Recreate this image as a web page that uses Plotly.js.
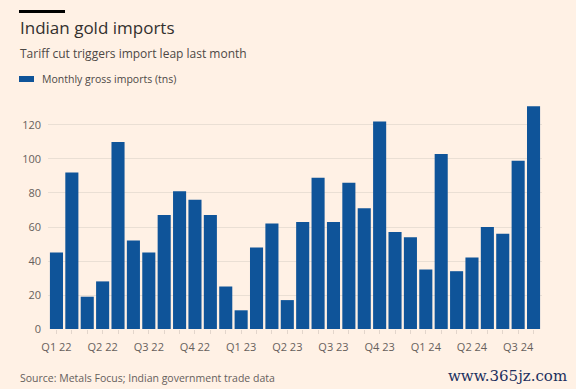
<!DOCTYPE html>
<html><head><meta charset="utf-8">
<script src="https://cdn.plot.ly/plotly-3.0.1.min.js"></script>
<style>html,body{margin:0;padding:0;background:#FFF1E5;}</style>
</head><body>
<div id="chart" style="width:576px;height:389px;"></div>
<script>
const months = ["Jan 22","Feb 22","Mar 22","Apr 22","May 22","Jun 22","Jul 22","Aug 22","Sep 22","Oct 22","Nov 22","Dec 22",
"Jan 23","Feb 23","Mar 23","Apr 23","May 23","Jun 23","Jul 23","Aug 23","Sep 23","Oct 23","Nov 23","Dec 23",
"Jan 24","Feb 24","Mar 24","Apr 24","May 24","Jun 24","Jul 24","Aug 24"];
const imports = [45,92,19,28,110,52,45,67,81,76,67,25,11,48,62,17,63,89,63,86,71,122,57,54,35,103,34,42,60,56,99,131];
const quarterLabels = ["Q1 22","Q2 22","Q3 22","Q4 22","Q1 23","Q2 23","Q3 23","Q4 23","Q1 24","Q2 24","Q3 24"];
const yTicks = [0,20,40,60,80,100,120];

const W=576,H=389, L=48, R=34, T=100, B=60;
const pw=W-L-R, ph=H-T-B;
const px = x => (x-L)/pw;
const py = y => (H-B-y)/ph;

const idx = months.map((m,i)=>i);
const tickText = idx.map(i => i%3===0 ? quarterLabels[i/3] : "");

const trace = {type:'bar', x: idx, y: imports, marker:{color:'#0F5499'}, name:'Monthly gross imports (tns)',
  hovertext: months, showlegend:false};

const font = "Open Sans, Lato, sans-serif";
const layout = {
  width:W, height:H, margin:{l:L,r:R,t:T,b:B},
  paper_bgcolor:'#FFF1E5', plot_bgcolor:'#FFF1E5',
  bargap:0.15,
  font:{family:font, color:'#66605c', size:11},
  xaxis:{range:[-0.55,31.55], tickvals: idx, ticktext: tickText, ticks:'outside', ticklen:4,
    tickcolor:'#e3d6cc', showgrid:false, zeroline:false, showline:false, tickfont:{size:11,color:'#66605c'},
    ticklabelstandoff:4, fixedrange:true},
  yaxis:{range:[0,134.7], tickvals:yTicks, showgrid:true, gridcolor:'#eadfd4', gridwidth:1, zeroline:false,
    showline:false, ticks:'', tickfont:{size:11,color:'#66605c'}, ticklabelstandoff:6, fixedrange:true},
  shapes:[
    {type:'rect', xref:'paper', yref:'paper', x0:px(19), x1:px(65), y0:py(13), y1:py(10), fillcolor:'#000', line:{width:0}},
    {type:'rect', xref:'paper', yref:'paper', x0:px(19), x1:px(34), y0:py(82), y1:py(76), fillcolor:'#0F5499', line:{width:0}}
  ],
  annotations:[
    {text:'Indian gold imports', xref:'paper', yref:'paper', x:px(18), y:py(28), xanchor:'left', yanchor:'middle', showarrow:false,
      font:{family:font, size:17, color:'#33302e'}},
    {text:'Tariff cut triggers import leap last month', xref:'paper', yref:'paper', x:px(18), y:py(54), xanchor:'left', yanchor:'middle', showarrow:false,
      font:{family:font, size:12, color:'#4d4845'}},
    {text:'Monthly gross imports (tns)', xref:'paper', yref:'paper', x:px(40), y:py(79), xanchor:'left', yanchor:'middle', showarrow:false,
      font:{family:font, size:10.5, color:'#4d4845'}},
    {text:'Source: Metals Focus; Indian government trade data', xref:'paper', yref:'paper', x:px(18), y:py(378), xanchor:'left', yanchor:'middle', showarrow:false,
      font:{family:font, size:10.5, color:'#66605c'}},
    {text:'www.365jz.com', xref:'paper', yref:'paper', x:px(569), y:py(376), xanchor:'right', yanchor:'middle', showarrow:false,
      font:{family:'DejaVu Serif, Liberation Serif, serif', size:15, color:'#1c2f5e'}}
  ]
};
Plotly.newPlot('chart',[trace],layout,{displayModeBar:false, staticPlot:true});
</script>
</body></html>
